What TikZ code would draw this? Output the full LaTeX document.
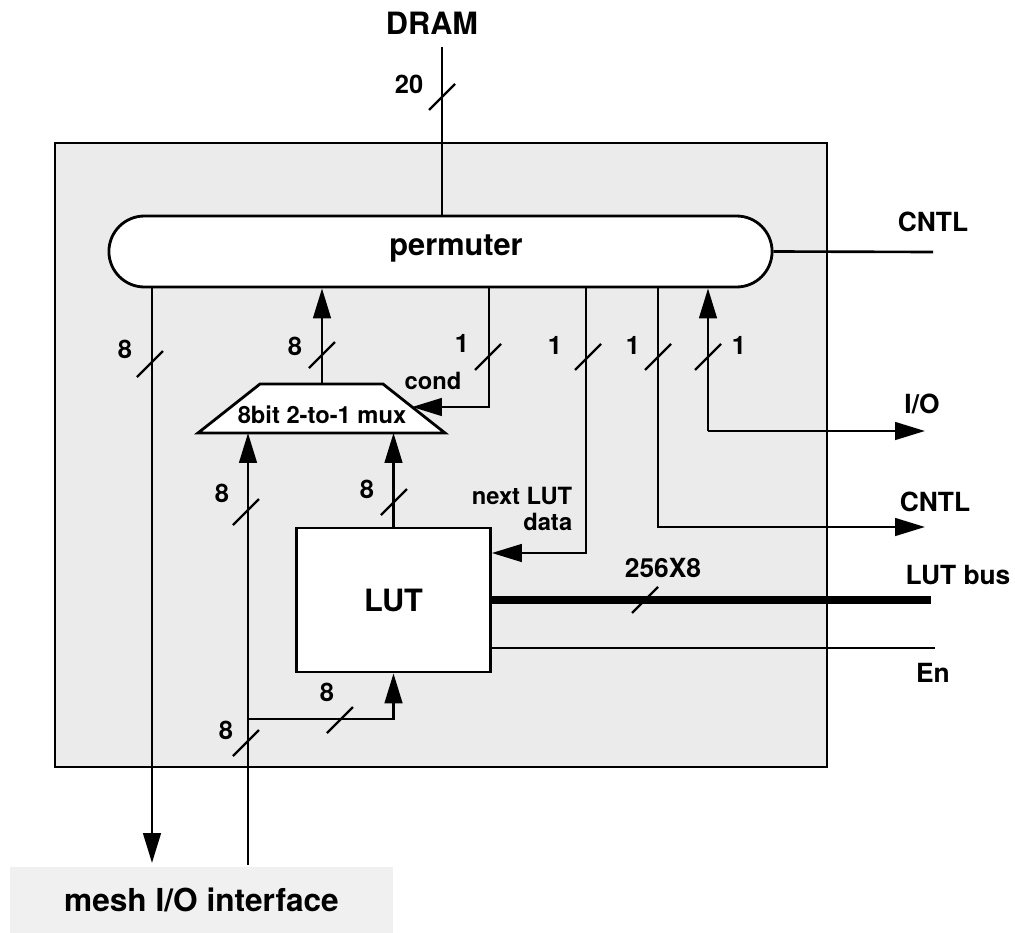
\documentclass[tikz,border=0pt]{standalone}
\usepackage{fontspec}
\setmainfont{TeX Gyre Heros}
\usetikzlibrary{arrows.meta, shapes.misc, positioning}

% bus-width slash on a wire
\newcommand{\busmark}[1]{\draw[tick] (#1) +(-13,13) -- +(13,-13);}

\begin{document}
\begin{tikzpicture}[x=0.02cm, y=-0.02cm,
    wire/.style={line width=1.5pt},
    arr/.style={wire, -{Triangle[length=17pt, width=10pt]}},
    bus/.style={line width=4pt},
    tick/.style={line width=1.4pt},
    chipbox/.style={draw, line width=1.6pt, fill=black!8, minimum width=15.44cm, minimum height=12.48cm},
    permbox/.style={draw, rounded rectangle, line width=1.6pt, fill=white, minimum width=13.5cm, minimum height=1.42cm},
    lutbox/.style={draw, rectangle, line width=1.6pt, fill=white, minimum width=3.88cm, minimum height=2.88cm, font=\bfseries\fontsize{17.5}{20}\selectfont},
    meshband/.style={fill=black!6, minimum width=7.66cm, minimum height=1.32cm, font=\bfseries\fontsize{18}{20}\selectfont},
    big/.style={font=\bfseries\fontsize{17.5}{20}\selectfont, inner sep=0pt},
    side/.style={font=\bfseries\fontsize{15}{17}\selectfont, inner sep=0pt},
    num/.style={font=\bfseries\fontsize{14.5}{16}\selectfont, inner sep=0pt},
    small/.style={font=\bfseries\fontsize{13.5}{15}\selectfont, inner sep=0pt}
  ]
  \useasboundingbox (0,0) rectangle (1015,933);
  % Chip outline and blocks
  \node[chipbox] (chip) at (441,455) {};
  \node[meshband] (mesh) at (201.5,900) {mesh I/O interface};
  \node[permbox] (perm) at (440.5,251.5) {};
  \node[big] (permlbl) at (456,248) {permuter};
  \node[lutbox] (lut) at (393.5,600) {LUT};
  \draw[wire, line width=1.6pt, fill=white] (198,433) coordinate (mux-bl) -- (260,384) coordinate (mux-tl)
    -- (383,384) coordinate (mux-tr) -- (445,433) coordinate (mux-br) -- cycle;
  \node[small] (mux) at (322,415) {8bit 2-to-1 mux};
  \node[big] (dram) at (432,23) {DRAM};

  % End points
  \coordinate (dramin) at (442,47);
  \coordinate (meshout) at (152,863);
  \coordinate (meshin) at (248,865);
  \coordinate (split) at (248,719);
  \coordinate (muxout) at (322,384);
  \coordinate (muxsel) at (412,407);
  \coordinate (cond) at (489,407);
  \coordinate (nxt) at (586,553);
  \coordinate (ctl) at (658,527);
  \coordinate (io) at (708,431);
  \coordinate (cntlA) at (933,252);
  \coordinate (ioend) at (925,431);
  \coordinate (cntlB) at (925,527);
  \coordinate (busend) at (931,600);
  \coordinate (enend) at (935,648);

  % Wires
  \draw[wire] (dramin) -- (dramin |- perm.north);
  \draw[wire] (perm.east) -- (cntlA);
  \draw[arr] (meshout |- perm.south) -- (meshout);
  \draw[arr] (muxout) -- (muxout |- perm.south);
  \draw[arr] (cond |- perm.south) -- (cond) -- (muxsel);
  \draw[arr] (nxt |- perm.south) -- (nxt) -- (nxt -| lut.east);
  \draw[arr] (ctl |- perm.south) -- (ctl) -- (cntlB);
  \draw[arr] (io) -- (io |- perm.south);
  \draw[arr] (io) -- (ioend);
  \draw[arr] (meshin) -- (meshin |- mux-bl);
  \draw[arr] (split) -- (split -| lut.south) -- (lut.south);
  \draw[arr] (lut.north) -- (lut.north |- mux-bl);
  \draw[bus] (lut.east) -- (busend);
  \draw[wire] (lut.east |- enend) -- (enend);

  % Bus widths
  \busmark{442,97}
  \busmark{150,364}
  \busmark{322,355}
  \busmark{488,357}
  \busmark{588,357}
  \busmark{658,357}
  \busmark{708,357}
  \busmark{246,512}
  \busmark{394,502}
  \busmark{645,600}
  \busmark{340,720}
  \busmark{246,743}

  \node[num] (w20) at (409,84) {20};
  \node[num] (w8a) at (125,349) {8};
  \node[num] (w8b) at (295,346) {8};
  \node[num] (w1a) at (462,343) {1};
  \node[small] (condlbl) at (433,381) {cond};
  \node[num] (w1b) at (555,345) {1};
  \node[num] (w1c) at (633,345) {1};
  \node[num] (w1d) at (739,345) {1};
  \node[num] (w8c) at (222,493) {8};
  \node[num] (w8d) at (367,489) {8};
  \node[small, align=right] (nxtlbl) at (522,509) {next LUT\\data};
  \node[side] (w256) at (663,568) {256X8};
  \node[num] (w8e) at (327,692) {8};
  \node[num] (w8f) at (226,730) {8};

  % Outside signals
  \node[side] (cntlAlbl) at (933,222) {CNTL};
  \node[side] (iolbl) at (922,404) {I/O};
  \node[side] (cntlBlbl) at (935,502) {CNTL};
  \node[side] (buslbl) at (958,575) {LUT bus};
  \node[side] (enlbl) at (933,673) {En};
\end{tikzpicture}
\end{document}
